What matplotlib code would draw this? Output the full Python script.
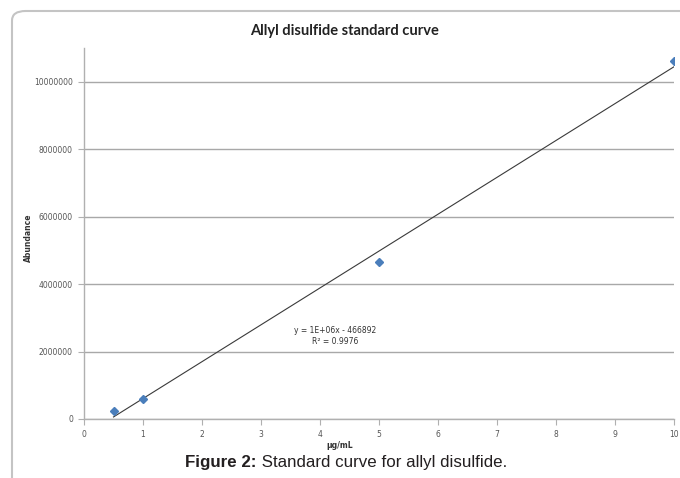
import numpy as np
import matplotlib.pyplot as plt
from matplotlib.patches import FancyBboxPatch

conc = [0.5, 1, 5, 10]
abundance = [240000, 600000, 4650000, 10600000]
x_ticks = list(range(0, 11))
y_ticks = [0, 2000000, 4000000, 6000000, 8000000, 10000000]

fig = plt.figure(figsize=(6.8, 4.78), dpi=100)

# rounded chart frame (runs off right/bottom edge)
frame = FancyBboxPatch((12 / 680, 1 - 490 / 478), 690 / 680, 479 / 478,
                       boxstyle='round,pad=0,rounding_size=0.02',
                       transform=fig.transFigure, fill=False,
                       edgecolor='#c4c4c4', linewidth=1.5, clip_on=False)
fig.patches.append(frame)

ax = fig.add_axes([84 / 680, 1 - 419 / 478, 590 / 680, 371 / 478])
ax.set_xlim(0, 10)
ax.set_ylim(0, 11000000)
ax.set_xticks(x_ticks)
ax.set_yticks(y_ticks)
ax.set_yticklabels([str(v) for v in y_ticks])
ax.grid(axis='y', color='#a8a8a8', linewidth=1.0)
ax.set_axisbelow(True)
for s in ['top', 'right']:
    ax.spines[s].set_visible(False)
for s in ['left', 'bottom']:
    ax.spines[s].set_color('#b0b0b0')
    ax.spines[s].set_linewidth(1.0)
ax.tick_params(axis='both', colors='#b0b0b0', labelcolor='#555555',
               labelsize=5.5, length=4, width=0.8, pad=4)

# linear trendline
slope, intercept = np.polyfit(conc, abundance, 1)
xs = np.array([conc[0], conc[-1]])
ax.plot(xs, slope * xs + intercept, color='#3a3a3a', linewidth=0.8, zorder=2)
ax.plot(conc, abundance, linestyle='none', marker='D', markersize=4.2,
        color='#4a7ebb', zorder=3)

ax.text(4.25, 2620000, 'y = 1E+06x - 466892', ha='center', va='center',
        fontsize=5.5, color='#333333')
ax.text(4.25, 2290000, 'R² = 0.9976', ha='center', va='center',
        fontsize=5.5, color='#333333')

fig.text(345 / 680, 1 - 31 / 478, 'Allyl disulfide standard curve', ha='center',
         va='center', fontsize=10.5, fontweight='bold', family='Lato', color='#222222')
fig.text(28 / 680, 1 - 238 / 478, 'Abundance', rotation=90, ha='center',
         va='center', fontsize=5.5, fontweight='bold', color='#333333')
fig.text(340 / 680, 1 - 445 / 478, 'µg/mL', ha='center', va='center',
         fontsize=5.5, fontweight='bold', color='#333333')

# caption: bold "Figure 2:" followed by regular text, centred as a whole
cap_y = 1 - 463 / 478
t1 = fig.text(0, cap_y, 'Figure 2:', ha='left', va='center',
              fontsize=12.2, fontweight='bold', family='Liberation Sans', color='#231f20')
t2 = fig.text(0, cap_y, ' Standard curve for allyl disulfide.', ha='left', va='center',
              fontsize=12.2, family='Liberation Sans', color='#231f20')
r = fig.canvas.get_renderer()
w1 = t1.get_window_extent(r).width
w2 = t2.get_window_extent(r).width
x0 = 346 - (w1 + w2) / 2
t1.set_x(x0 / 680)
t2.set_x((x0 + w1) / 680)

fig.savefig('out.png', dpi=100)
